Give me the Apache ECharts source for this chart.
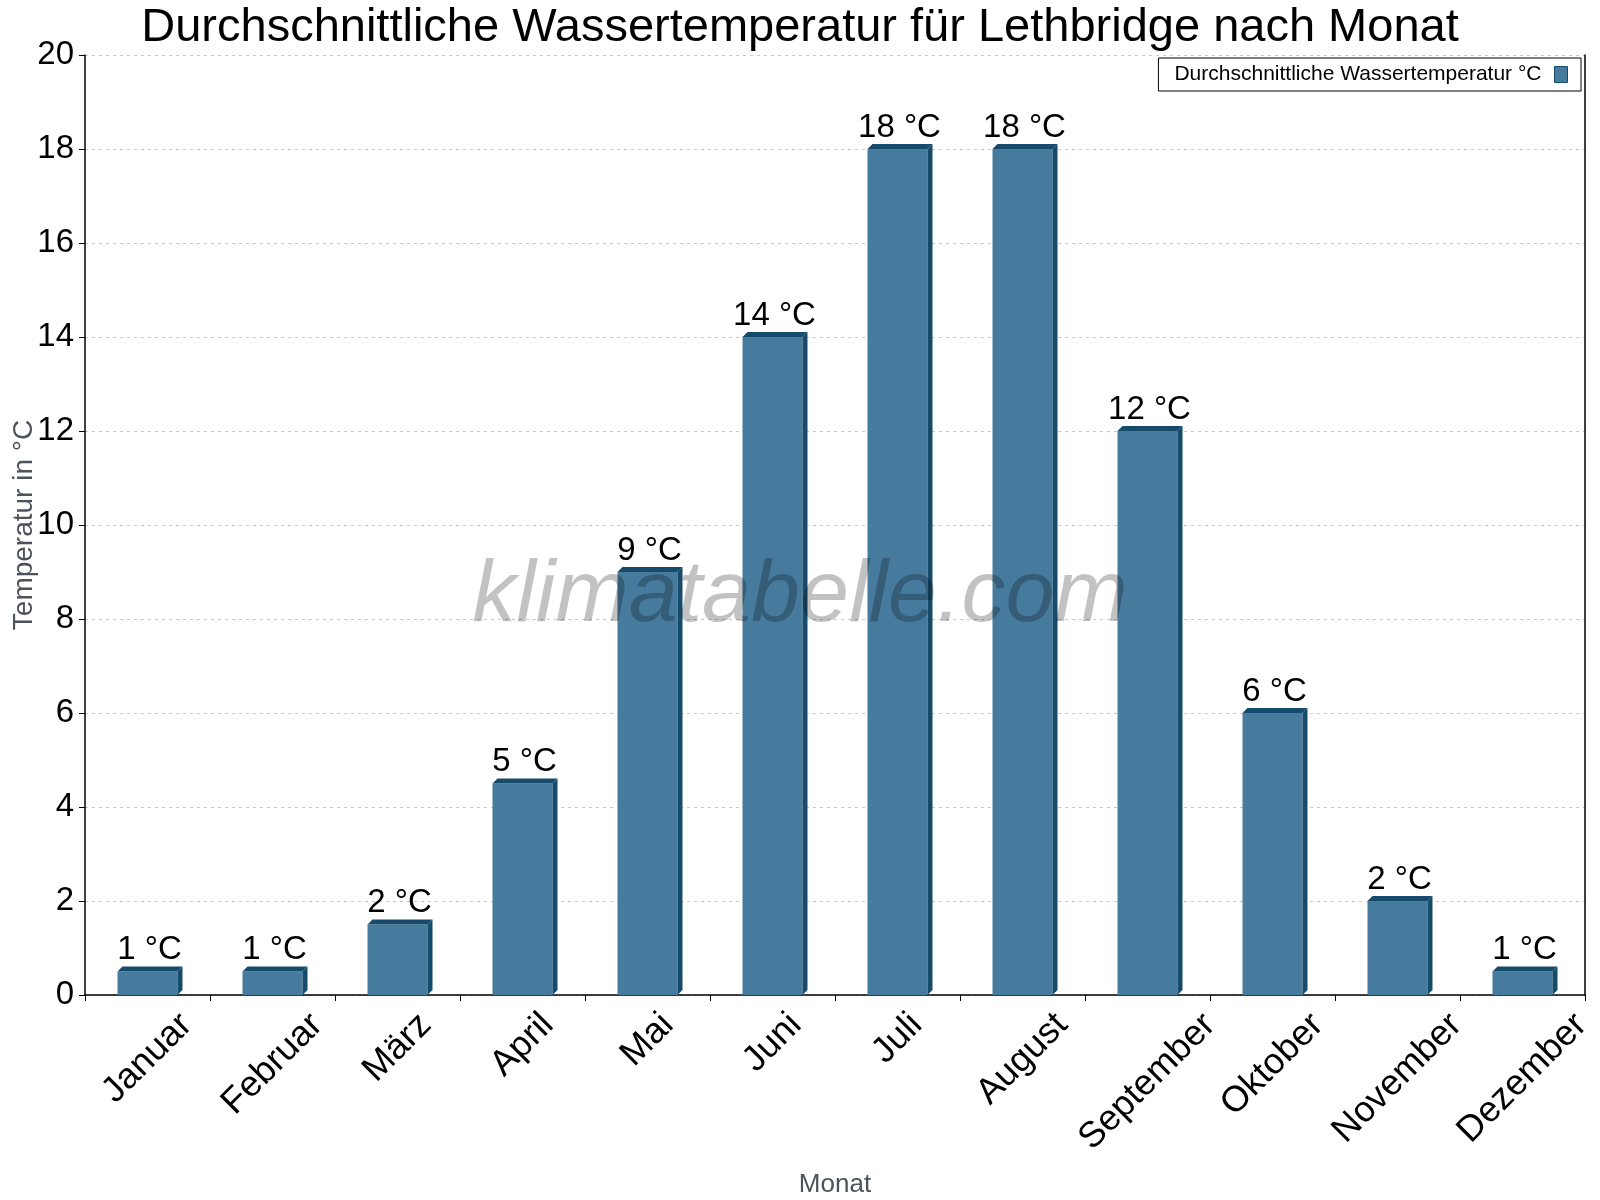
<!DOCTYPE html>
<html>
<head>
<meta charset="utf-8">
<script src="https://cdn.jsdelivr.net/npm/echarts@6/dist/echarts.min.js"></script>
<style>
  html, body { margin: 0; padding: 0; background: #fff; }
  #chart { width: 1600px; height: 1200px; }
</style>
</head>
<body>
<div id="chart"></div>
<script>
// Daten
const months = ['Januar', 'Februar', 'März', 'April', 'Mai', 'Juni', 'Juli', 'August', 'September', 'Oktober', 'November', 'Dezember'];
const waterTemp = [0.5, 0.5, 1.5, 4.5, 9, 14, 18, 18, 12, 6, 2, 0.5];
const yTicks = [0, 2, 4, 6, 8, 10, 12, 14, 16, 18, 20];

const seriesName = 'Durchschnittliche Wassertemperatur °C';
const frontColor = '#467b9d';
const darkColor = '#174b6b';
const font = 'Liberation Sans, Arial, sans-serif';
const monthFont = '36px ' + font;

// Textbreite messen (für gedrehte Monatsnamen, um die Mitte gedreht)
const measureCtx = document.createElement('canvas').getContext('2d');
measureCtx.font = monthFont;
const textWidth = (s) => measureCtx.measureText(s).width;

const chart = echarts.init(document.getElementById('chart'));

// 3D-Balken: Vorderseite, Oberseite, rechte Seite + Beschriftung
const renderBar = (params, api) => {
  const idx = api.value(0);
  const val = api.value(1);
  const top = api.coord([idx, val]);
  const base = api.coord([idx, 0]);
  const band = api.size([1, 0])[0];
  const w = band * 0.48;
  const d = 5;
  const x0 = top[0] - w / 2;
  return {
    type: 'group',
    children: [
      {
        type: 'rect',
        shape: { x: x0, y: top[1], width: w, height: base[1] - top[1] },
        style: { fill: frontColor }
      },
      {
        type: 'polygon',
        shape: { points: [[x0, top[1]], [x0 + d, top[1] - d], [x0 + w + d, top[1] - d], [x0 + w, top[1]]] },
        style: { fill: darkColor }
      },
      {
        type: 'polygon',
        shape: { points: [[x0 + w, top[1]], [x0 + w + d, top[1] - d], [x0 + w + d, base[1] - d], [x0 + w, base[1]]] },
        style: { fill: darkColor }
      },
      {
        type: 'text',
        x: top[0] + 2,
        y: top[1] - d,
        style: {
          text: Math.round(val) + ' °C',
          fill: '#000',
          font: '33px ' + font,
          align: 'center',
          verticalAlign: 'bottom'
        }
      }
    ]
  };
};

// Monatsnamen unter der Achse, 45° gedreht, Mitte über der Kategorie
const renderMonth = (params, api) => {
  const idx = api.value(0);
  const p = api.coord([idx, 0]);
  const name = months[idx];
  const L = textWidth(name);
  return {
    type: 'text',
    x: p[0],
    y: p[1] + 24.5 + L / (2 * Math.SQRT2),
    rotation: Math.PI / 4,
    style: {
      text: name,
      fill: '#000',
      font: monthFont,
      align: 'center',
      verticalAlign: 'middle'
    }
  };
};

const option = {
  backgroundColor: '#fff',
  animation: false,
  title: {
    text: 'Durchschnittliche Wassertemperatur für Lethbridge nach Monat',
    left: 'center',
    top: 0,
    textStyle: { fontFamily: font, fontSize: 47, fontWeight: 'normal', color: '#000' }
  },
  legend: {
    right: 19,
    top: 58,
    orient: 'horizontal',
    align: 'right',
    padding: [6, 13, 6, 16],
    borderColor: '#000',
    borderWidth: 1,
    itemWidth: 13,
    itemHeight: 16,
    itemGap: 10,
    icon: 'rect',
    textStyle: { fontFamily: font, fontSize: 21, color: '#000', padding: [0, 8, 0, 0] },
    data: [{ name: seriesName, itemStyle: { color: frontColor, borderColor: darkColor, borderWidth: 1 } }]
  },
  grid: { left: 85, right: 15, top: 55, bottom: 205, outerBoundsMode: 'none' },
  xAxis: {
    type: 'category',
    data: months,
    name: 'Monat',
    nameLocation: 'middle',
    nameGap: 177,
    nameTextStyle: { fontFamily: font, fontSize: 26, color: '#4d535a' },
    axisLine: { lineStyle: { color: '#000', width: 1.5 } },
    axisTick: { show: true, length: 6, lineStyle: { color: '#000' } },
    axisLabel: { show: false }
  },
  yAxis: [
    {
      type: 'value',
      min: yTicks[0],
      max: yTicks[yTicks.length - 1],
      interval: 2,
      name: 'Temperatur in °C',
      nameLocation: 'middle',
      nameGap: 47,
      nameMoveOverlap: false,
      nameTextStyle: { fontFamily: font, fontSize: 28, color: '#4d535a' },
      axisLine: { show: true, lineStyle: { color: '#000', width: 1.5 } },
      axisTick: { show: true, length: 6, lineStyle: { color: '#000' } },
      axisLabel: { margin: 11, fontFamily: font, fontSize: 33, color: '#000' },
      splitLine: { show: true, lineStyle: { color: '#c8c8c8', type: [3, 4] } }
    },
    {
      type: 'value',
      position: 'right',
      min: yTicks[0],
      max: yTicks[yTicks.length - 1],
      interval: 2,
      axisLine: { show: true, lineStyle: { color: '#000', width: 1.5 } },
      axisTick: { show: false },
      axisLabel: { show: false },
      splitLine: { show: false }
    }
  ],
  graphic: [
    {
      type: 'text',
      left: 'center',
      top: 553,
      z: 100,
      style: {
        text: 'klimatabelle.com',
        font: 'italic 88px ' + font,
        fill: 'rgba(0,0,0,0.24)'
      }
    }
  ],
  series: [
    {
      name: seriesName,
      type: 'custom',
      itemStyle: { color: frontColor },
      renderItem: renderBar,
      encode: { x: 0, y: 1 },
      data: waterTemp.map((v, i) => [i, v])
    },
    {
      name: 'Monatsnamen',
      type: 'custom',
      silent: true,
      clip: false,
      renderItem: renderMonth,
      encode: { x: 0, y: 1 },
      data: months.map((m, i) => [i, 0])
    }
  ]
};

chart.setOption(option);
</script>
</body>
</html>
